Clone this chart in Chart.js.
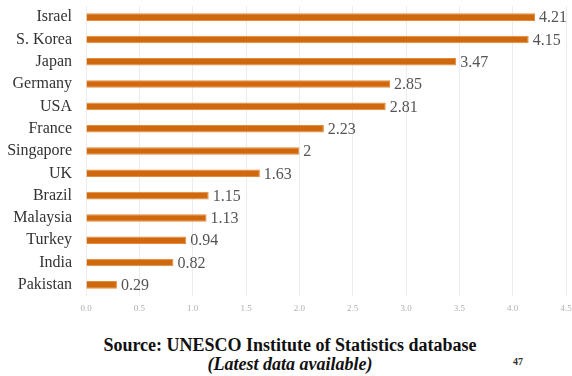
<!DOCTYPE html>
<html>
<head>
<meta charset="utf-8">
<script src="https://cdn.jsdelivr.net/npm/chart.js@4/dist/chart.umd.min.js"></script>
<style>
  html, body { margin: 0; padding: 0; background: #fff; }
  #wrap { position: relative; width: 572px; height: 376px; }
  #box { position: absolute; left: 0; top: 0; width: 572px; height: 320px; }
  .src { position: absolute; left: 0; width: 572px; text-align: center; font-family: "Liberation Serif", "Times New Roman", serif; color: #111; line-height: 1; }
  #s1 { top: 336px; font-size: 18px; font-weight: bold; left: 4px; }
  #s2 { top: 355px; font-size: 18px; font-weight: bold; font-style: italic; left: 4px; }
  #pg { position: absolute; left: 513px; top: 356px; font-family: "Liberation Serif", serif; font-size: 10px; font-weight: bold; color: #333; }
</style>
</head>
<body>
<div id="wrap">
  <div id="box"><canvas id="c"></canvas></div>
  <div class="src" id="s1">Source: UNESCO Institute of Statistics database</div>
  <div class="src" id="s2">(Latest data available)</div>
  <div id="pg">47</div>
</div>
<script>
// R&D expenditure as share of GDP (%)
const countries = ["Israel", "S. Korea", "Japan", "Germany", "USA", "France", "Singapore", "UK", "Brazil", "Malaysia", "Turkey", "India", "Pakistan"];
const spending = [4.21, 4.15, 3.47, 2.85, 2.81, 2.23, 2, 1.63, 1.15, 1.13, 0.94, 0.82, 0.29];
const valueLabels = ["4.21", "4.15", "3.47", "2.85", "2.81", "2.23", "2", "1.63", "1.15", "1.13", "0.94", "0.82", "0.29"];
const xTicks = [0, 0.5, 1, 1.5, 2, 2.5, 3, 3.5, 4, 4.5];

const serif = "'Liberation Serif', 'Times New Roman', serif";

// writes each value just past the end of its bar
const barValues = {
  id: 'barValues',
  afterDatasetsDraw(chart) {
    const ctx = chart.ctx;
    const meta = chart.getDatasetMeta(0);
    ctx.save();
    ctx.font = "16px 'Liberation Serif', serif";
    ctx.fillStyle = '#555';
    ctx.textAlign = 'left';
    ctx.textBaseline = 'middle';
    meta.data.forEach((bar, i) => {
      ctx.fillText(valueLabels[i], bar.x + 4, bar.y + 1);
    });
    ctx.restore();
  }
};

function build() {
  Chart.defaults.font.family = serif;
  new Chart(document.getElementById('c'), {
    type: 'bar',
    data: {
      labels: countries,
      datasets: [{
        data: spending,
        backgroundColor: '#D0680E',
        borderColor: '#E38A3C',
        borderWidth: 1,
        barPercentage: 0.34,
        categoryPercentage: 1
      }]
    },
    options: {
      indexAxis: 'y',
      responsive: true,
      maintainAspectRatio: false,
      animation: false,
      layout: { padding: { top: 6, right: 6, left: 0, bottom: 0 } },
      plugins: { legend: { display: false }, tooltip: { enabled: false } },
      scales: {
        x: {
          min: 0,
          max: 4.5,
          afterBuildTicks(scale) { scale.ticks = xTicks.map(v => ({ value: v })); },
          afterFit(scale) {
            scale.height = 24;
            scale.paddingLeft = 0;
            scale.paddingRight = 0;
          },
          grid: { color: '#ececec', drawTicks: false, lineWidth: 1 },
          border: { display: false },
          ticks: {
            padding: 7,
            color: '#b0b0b0',
            font: { family: serif, size: 9 },
            callback: v => Number(v).toFixed(1)
          }
        },
        y: {
          afterFit(scale) {
            scale.width = 86;
            scale.paddingTop = 0;
            scale.paddingBottom = 0;
          },
          grid: { display: false, drawTicks: false },
          border: { display: false },
          ticks: {
            padding: 14,
            color: '#333',
            font: { family: serif, size: 16 }
          }
        }
      }
    },
    plugins: [barValues]
  });
}

if (document.fonts && document.fonts.load) {
  document.fonts.load("16px 'Liberation Serif'").then(build, build);
} else {
  build();
}
</script>
</body>
</html>
